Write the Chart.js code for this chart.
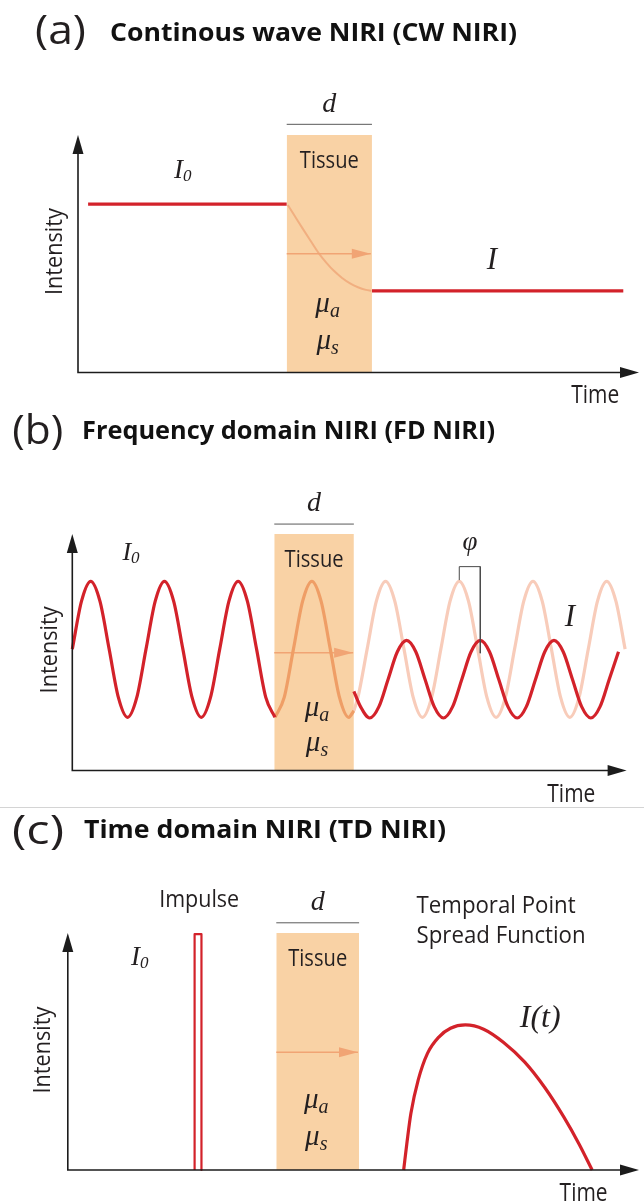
<!DOCTYPE html>
<html><head><meta charset="utf-8">
<script src="https://cdn.jsdelivr.net/npm/chart.js@4.4.1/dist/chart.umd.min.js"></script>
<style>
html,body{margin:0;padding:0;background:#fff;}
body{width:644px;height:1203px;position:relative;overflow:hidden;}
canvas{position:absolute;left:0;display:block;}
</style></head><body>
<canvas id="ca" width="644" height="408" style="top:0px"></canvas>
<canvas id="cb" width="644" height="400" style="top:408px"></canvas>
<canvas id="cc" width="644" height="395" style="top:808px"></canvas>
<script>
// ===== DATA (time / intensity in arbitrary units) =====
// Panel (a) continuous wave
const cwIncidentX = [1.8, 37.2];
const cwIncidentY = [70.9, 70.9];
const cwDetectedX = [52.4, 97.2];
const cwDetectedY = [34.4, 34.4];
const cwDecayX = [37.4, 38.58, 40.0, 41.42, 42.83, 44.25, 45.66, 47.08, 48.5, 49.9, 51.33, 52.27];
const cwDecayY = [70.5, 66.1, 60.8, 55.6, 50.5, 46.3, 42.7, 39.8, 37.5, 35.9, 34.8, 34.4];
const cwTissueX = [37.2, 52.4];
const cwTissueTop = [100, 100];
const cwArrowX = [37.2, 52.2];
const cwArrowY = 50;

// Panel (b) frequency domain
const fdIncidentX = [0, 1.25, 2.5, 3.75, 5, 6.25, 7.5, 8.75, 10, 11.25, 12.5, 13.75, 15, 16.25, 17.5, 18.75, 20, 21.25, 22.5, 23.75, 25, 26.25, 27.5];
const fdIncidentY = [51.3, 71.6, 80, 71.6, 51.3, 30.9, 22.5, 30.9, 51.3, 71.6, 80, 71.6, 51.3, 30.9, 22.5, 30.9, 51.3, 71.6, 80, 71.6, 51.3, 30.9, 22.5];
const fdInTissueX = [27.5, 28.75, 30, 31.25, 32.5, 33.75, 35, 36.25, 37.5, 38.2];
const fdInTissueY = [22.5, 30.9, 51.3, 71.6, 80, 71.6, 51.3, 30.9, 22.5, 25.3];
const fdReferenceX = [38.2, 38.75, 40, 41.25, 42.5, 43.75, 45, 46.25, 47.5, 48.75, 50, 51.25, 52.5, 53.75, 55, 56.25, 57.5, 58.75, 60, 61.25, 62.5, 63.75, 65, 66.25, 67.5, 68.75, 70, 71.25, 72.5, 73.75, 75];
const fdReferenceY = [25.3, 30.9, 51.3, 71.6, 80, 71.6, 51.3, 30.9, 22.5, 30.9, 51.3, 71.6, 80, 71.6, 51.3, 30.9, 22.5, 30.9, 51.3, 71.6, 80, 71.6, 51.3, 30.9, 22.5, 30.9, 51.3, 71.6, 80, 71.6, 51.3];
const fdDetectedX = [38.2, 39.1, 40.35, 41.6, 42.85, 44.1, 45.35, 46.6, 47.85, 49.1, 50.35, 51.6, 52.85, 54.1, 55.35, 56.6, 57.85, 59.1, 60.35, 61.6, 62.85, 64.1, 65.35, 66.6, 67.85, 69.1, 70.35, 71.6, 72.85, 74.1];
const fdDetectedY = [33.5, 27.0, 22.2, 27.0, 38.6, 50.2, 55.0, 50.2, 38.6, 27.0, 22.2, 27.0, 38.6, 50.2, 55.0, 50.2, 38.6, 27.0, 22.2, 27.0, 38.6, 50.2, 55.0, 50.2, 38.6, 27.0, 22.2, 27.0, 38.6, 50.2];
const fdPhaseX = [52.5, 52.5, 55.35, 55.35];
const fdPhaseY = [80.5, 86.2, 86.2, 49.6];
const fdTissueX = [27.4, 38.2];
const fdTissueTop = [100, 100];
const fdArrowX = [27.4, 38.1];
const fdArrowY = 49.8;

// Panel (c) time domain
const tdImpulseX = [22.2, 22.2, 23.4, 23.4];
const tdImpulseY = [0, 99.5, 99.5, 0];
const tdTpsfX = [58.8, 59.4, 60.07, 61.35, 62.97, 65.0, 67.0, 69.6, 72.8, 76.3, 80.0, 83.5, 86.8, 89.5, 91.8];
const tdTpsfY = [0, 12.0, 23.9, 38.0, 49.2, 56.2, 59.8, 61.2, 59.4, 53.8, 45.5, 34.8, 22.5, 11.0, 0];
const tdTissueX = [36.5, 51.0];
const tdTissueTop = [100, 100];
const tdArrowX = [36.5, 50.8];
const tdArrowY = 49.7;

// ===== STYLE =====
const RED = '#d3222a';
const TISSUE = '#f9d2a5';
const ORANGE_ARROW = '#f1a474';
const AXIS = '#1c1c1c';
const TXT = '#231f20';
const SANS = '"Open Sans", "Noto Sans", sans-serif';
const SERIF = '"Liberation Serif", "DejaVu Serif", serif';

const pts = (xs, ys) => xs.map((x, i) => ({x, y: ys[i]}));

function head(ctx, x, y, dx, dy, len, hw) {
  ctx.beginPath();
  ctx.moveTo(x, y);
  ctx.lineTo(x - dx * len - dy * hw, y - dy * len + dx * hw);
  ctx.lineTo(x - dx * len + dy * hw, y - dy * len - dx * hw);
  ctx.closePath();
  ctx.fill();
}

function drawLabel(ctx, L, X, Y) {
  const x = L.abs ? L.x : X(L.x), y = L.abs ? L.y : Y(L.y);
  ctx.save();
  ctx.fillStyle = L.color || TXT;
  ctx.textAlign = 'left';
  ctx.textBaseline = L.vb || 'alphabetic';
  ctx.font = L.font;
  const w = ctx.measureText(L.t).width;
  let sw = 0;
  if (L.sub) { ctx.font = L.subFont; sw = ctx.measureText(L.sub).width; ctx.font = L.font; }
  const total = w + sw;
  const sx = L.w ? L.w / total : 1;
  ctx.translate(x, y);
  if (L.rot) ctx.rotate(L.rot);
  ctx.scale(sx, 1);
  const x0 = L.align === 'center' ? -total / 2 : (L.align === 'right' ? -total : 0);
  ctx.fillText(L.t, x0, 0);
  if (L.sub) { ctx.font = L.subFont; ctx.fillText(L.sub, x0 + w + (L.subDx || 0), L.subDy || 4); }
  ctx.restore();
}

const annot = {
  id: 'annot',
  afterDraw(chart, args, opts) {
    const ctx = chart.ctx, xs = chart.scales.x, ys = chart.scales.y;
    const X = v => xs.getPixelForValue(v), Y = v => ys.getPixelForValue(v);
    ctx.save();
    // axes with arrowheads
    const ox = X(xs.min), oy = Y(ys.min), tx = X(xs.max), ty = Y(ys.max);
    ctx.strokeStyle = AXIS; ctx.fillStyle = AXIS; ctx.lineWidth = 1.6;
    ctx.beginPath(); ctx.moveTo(ox, ty + 12); ctx.lineTo(ox, oy); ctx.lineTo(tx - 12, oy); ctx.stroke();
    head(ctx, ox, ty, 0, -1, 19, 5.5);
    head(ctx, tx, oy, 1, 0, 19, 5.5);
    // arrowheads of flagged datasets
    chart.data.datasets.forEach((ds, i) => {
      if (!ds.arrowHead) return;
      const m = chart.getDatasetMeta(i);
      const p = m.data[m.data.length - 1];
      ctx.fillStyle = ds.borderColor;
      head(ctx, p.x, p.y, 1, 0, 19, 5);
    });
    // divider
    if (opts.divider) {
      ctx.strokeStyle = '#d4d4d4'; ctx.lineWidth = 1;
      ctx.beginPath(); ctx.moveTo(0, opts.divider); ctx.lineTo(chart.width, opts.divider); ctx.stroke();
    }
    (opts.labels || []).forEach(L => drawLabel(ctx, L, X, Y));
    ctx.restore();
  }
};
Chart.register(annot);

function tissueSet(xs, tops) {
  return {data: pts(xs, tops), fill: 'start', backgroundColor: TISSUE, borderWidth: 0, pointRadius: 0, order: 9};
}
function bracketSet(xs, y) {
  return {data: pts(xs, [y, y]), borderColor: '#5a5a5a', borderWidth: 1, pointStyle: 'line', rotation: 90,
    pointRadius: 3.5, pointBorderWidth: 1, pointBorderColor: '#5a5a5a', clip: false, order: 2};
}
function arrowSet(xs, y) {
  return {data: pts(xs, [y, y]), borderColor: ORANGE_ARROW, borderWidth: 1.6, pointRadius: 0, arrowHead: true, order: 4};
}
function curve(xs, ys, color, w, order, mono) {
  const d = {data: pts(xs, ys), borderColor: color, borderWidth: w, pointRadius: 0, order: order, clip: false,
    borderCapStyle: 'butt', borderJoinStyle: 'round'};
  if (mono) d.cubicInterpolationMode = 'monotone';
  return d;
}

function makeChart(id, datasets, xr, pad, labels, divider) {
  return new Chart(document.getElementById(id), {
    type: 'line',
    data: {datasets},
    options: {
      responsive: false, animation: false, events: [],
      layout: {padding: pad},
      scales: {
        x: {type: 'linear', min: xr[0], max: xr[1], display: false},
        y: {type: 'linear', min: 0, max: 100, display: false}
      },
      plugins: {legend: {display: false}, tooltip: {enabled: false}, annot: {labels, divider}}
    }
  });
}

const sans = s => s + 'px ' + SANS;
const it = s => 'italic ' + s + 'px ' + SERIF;
const TITLE_P = '400 41px ' + SANS;
const TITLE_B = '700 25px ' + SANS;

function mu(x, y, sub) { return {t: 'μ', sub, x, y, font: it(29), subFont: it(20), subDy: 5, align: 'center'}; }
function intensity(x, y) { return {t: 'Intensity', x, y, font: sans(24), w: 87, rot: -Math.PI / 2, align: 'center', vb: 'middle'}; }

// ----- Panel (a)
makeChart('ca', [
  tissueSet(cwTissueX, cwTissueTop),
  curve(cwDecayX, cwDecayY, 'rgba(238,160,112,0.7)', 2, 5, true),
  arrowSet(cwArrowX, cwArrowY),
  curve(cwIncidentX, cwIncidentY, RED, 3.3, 1),
  curve(cwDetectedX, cwDetectedY, RED, 3.3, 1),
  bracketSet(cwTissueX, 104.5)
], [0, 100], {left: 78, right: 1, top: 135, bottom: 35.5}, [
  {t: '(a)', x: 35, y: 44, abs: true, font: TITLE_P, w: 51},
  {t: 'Continous wave NIRI (CW NIRI)', x: 110, y: 40.7, abs: true, font: TITLE_B, w: 407, color: '#111'},
  {t: 'Tissue', x: 44.8, y: 86.0, font: sans(24), w: 59, align: 'center'},
  {t: 'd', x: 44.8, y: 109.8, font: it(28), align: 'center'},
  {t: 'I', sub: '0', x: 17.1, y: 81.8, font: it(27), subFont: it(17), subDy: 3},
  {t: 'I', x: 73.8, y: 43.5, font: it(31), align: 'center'},
  mu(44.5, 25.5, 'a'),
  mu(44.5, 9.9, 's'),
  {t: 'Time', x: 92.2, y: -13.0, font: sans(26), w: 48, align: 'center'},
  intensity(-4.0, 50.9)
]);

// ----- Panel (b)
makeChart('cb', [
  tissueSet(fdTissueX, fdTissueTop),
  curve(fdReferenceX, fdReferenceY, '#f8ccba', 3.2, 7, true),
  curve(fdInTissueX, fdInTissueY, '#ef9e66', 3.2, 3, true),
  arrowSet(fdArrowX, fdArrowY),
  curve(fdIncidentX, fdIncidentY, RED, 3.2, 1, true),
  curve(fdDetectedX, fdDetectedY, RED, 3.2, 1, true),
  {data: pts(fdPhaseX, fdPhaseY), borderColor: '#4a4a4a', borderWidth: 1, pointRadius: 0, clip: false, order: 0},
  bracketSet(fdTissueX, 104.2)
], [0, 75.2], {left: 72.3, right: 17.4, top: 126, bottom: 37.5}, [
  {t: '(b)', x: 12.3, y: 36, abs: true, font: TITLE_P, w: 51},
  {t: 'Frequency domain NIRI (FD NIRI)', x: 82, y: 31.3, abs: true, font: TITLE_B, w: 413, color: '#111'},
  {t: 'Tissue', x: 32.8, y: 86.2, font: sans(24), w: 59, align: 'center'},
  {t: 'd', x: 32.8, y: 109.7, font: it(28), align: 'center'},
  {t: 'I', sub: '0', x: 6.8, y: 89.0, font: it(26), subFont: it(17), subDy: 3},
  {t: 'I', x: 67.5, y: 61.1, font: it(31), align: 'center'},
  {t: 'φ', x: 53.95, y: 93.2, font: it(27), align: 'center'},
  mu(33.2, 23.0, 'a'),
  mu(33.2, 8.2, 's'),
  {t: 'Time', x: 67.7, y: -13.2, font: sans(26), w: 48, align: 'center'},
  intensity(-3.0, 51.0)
], 399.5);

// ----- Panel (c)
makeChart('cc', [
  tissueSet(tdTissueX, tdTissueTop),
  arrowSet(tdArrowX, tdArrowY),
  curve(tdImpulseX, tdImpulseY, RED, 2.2, 1),
  curve(tdTpsfX, tdTpsfY, RED, 3.2, 1, true),
  bracketSet(tdTissueX, 104.3)
], [0, 100], {left: 67.8, right: 1, top: 125, bottom: 33}, [
  {t: '(c)', x: 12, y: 36, abs: true, font: TITLE_P, w: 52},
  {t: 'Time domain NIRI (TD NIRI)', x: 84, y: 30, abs: true, font: TITLE_B, w: 362, color: '#111'},
  {t: 'Impulse', x: 23.0, y: 111.0, font: sans(24), w: 80, align: 'center'},
  {t: 'I', sub: '0', x: 11.06, y: 86.5, font: it(27), subFont: it(17), subDy: 3},
  {t: 'd', x: 43.75, y: 109.7, font: it(28), align: 'center'},
  {t: 'Tissue', x: 43.75, y: 86.1, font: sans(24), w: 59, align: 'center'},
  mu(43.5, 26.2, 'a'),
  mu(43.5, 10.5, 's'),
  {t: 'Temporal Point', x: 61.06, y: 108.3, font: sans(23), w: 159},
  {t: 'Spread Function', x: 61.06, y: 95.7, font: sans(23), w: 169},
  {t: 'I(t)', x: 82.7, y: 60.3, font: it(32), align: 'center'},
  {t: 'Time', x: 90.3, y: -13.1, font: sans(26), w: 48, align: 'center'},
  intensity(-4.3, 50.6)
]);
</script>
</body></html>
